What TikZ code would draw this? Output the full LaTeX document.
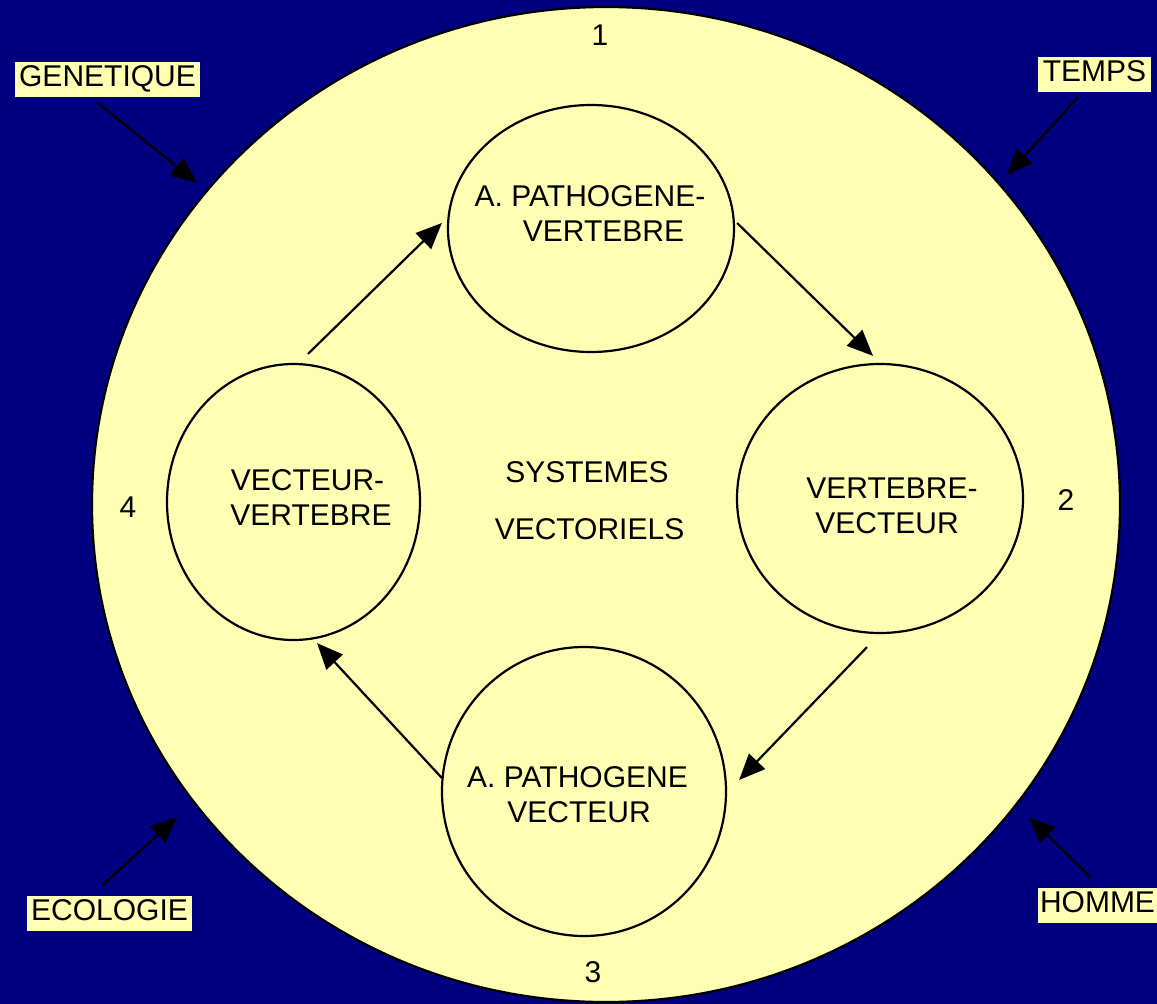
\documentclass[tikz,border=0pt]{standalone}
\usepackage{fontspec}
\setmainfont{Liberation Sans}
\usetikzlibrary{shapes.geometric,arrows.meta,calc}
\definecolor{navy}{RGB}{0,0,128}
\definecolor{paleyellow}{RGB}{255,255,180}
\begin{document}
\begin{tikzpicture}[x=1pt,y=-1pt,
  every node/.style={font=\fontsize{30}{35}\selectfont, text=black},
  ring/.style={ellipse, draw=black, line width=2.2pt, fill=paleyellow, inner sep=0pt},
  txt/.style={anchor=base, inner sep=0pt},
  tag/.style={fill=paleyellow, inner sep=0pt, text height=21pt, text depth=7pt, minimum height=35pt},
  arr/.style={line width=2.2pt, -{Triangle[length=26pt,width=22pt]}}
]
\useasboundingbox (0,0) rectangle (1157,1004);
\fill[navy] (0,0) rectangle (1157,1004);

% outer system
\node[ring, minimum width=1028pt, minimum height=995pt] (sys) at (606,504.5) {};

% four stages
\node[ring, minimum width=286pt, minimum height=247pt] (T) at (591,228.5) {};
\node[ring, minimum width=286pt, minimum height=269pt] (R) at (880,498.5) {};
\node[ring, minimum width=284pt, minimum height=289pt] (B) at (584,791.5) {};
\node[ring, minimum width=253pt, minimum height=276pt] (L) at (293.5,502) {};

% texts in stages
\node[txt] (t1) at (590,206) {A. PATHOGENE-};
\node[txt] (t2) at (603.5,241) {VERTEBRE};
\node[txt] (r1) at (892,498) {VERTEBRE-};
\node[txt] (r2) at (887,533) {VECTEUR};
\node[txt] (b1) at (577.5,787) {A. PATHOGENE};
\node[txt] (b2) at (579,822) {VECTEUR};
\node[txt] (l1) at (307.5,490) {VECTEUR-};
\node[txt] (l2) at (311,525) {VERTEBRE};
\node[txt] (c1) at (587,482) {SYSTEMES};
\node[txt] (c2) at (589.5,539) {VECTORIELS};

% numbers
\node[txt] (n1) at (600,45) {1};
\node[txt] (n2) at (1066,510) {2};
\node[txt] (n3) at (593,982) {3};
\node[txt] (n4) at (128,517) {4};

% factor tags
\node[tag, minimum width=185pt] (gen) at (107.5,79.5) {GENETIQUE};
\node[tag, minimum width=113pt] (temps) at (1094.5,74.5) {TEMPS};
\node[tag, minimum width=165pt] (eco) at (109.5,913.5) {ECOLOGIE};
\node[tag, minimum width=119pt] (homme) at (1097.5,905.5) {HOMME};

\coordinate (gTip) at (197,183);
\coordinate (tTip) at (1007,175);
\coordinate (eTip) at (177,817);
\coordinate (hTip) at (1029,817);

\draw[arr] ([shift={(-10.5pt,-5pt)}]gen.south) -- (gTip);
\draw[arr] ([shift={(-16.5pt,-5pt)}]temps.south) -- (tTip);
\draw[arr] ([shift={(-7.5pt,10pt)}]eco.north) -- (eTip);
\draw[arr] ([shift={(-6.5pt,10pt)}]homme.north) -- (hTip);

% cycle
\draw[arr] ([shift={(14.5pt,9pt)}]L.north) -- ([shift={(-5pt,5.5pt)}]T.west);
\draw[arr] ([shift={(2pt,5.5pt)}]T.east) -- ([shift={(-7pt,7pt)}]R.north);
\draw[arr] ([shift={(-13pt,-13pt)}]R.south) -- ([shift={(12pt,11.5pt)}]B.east);
\draw[arr] ([shift={(1pt,13.5pt)}]B.west) -- ([shift={(23.5pt,-2pt)}]L.south);
\end{tikzpicture}
\end{document}
